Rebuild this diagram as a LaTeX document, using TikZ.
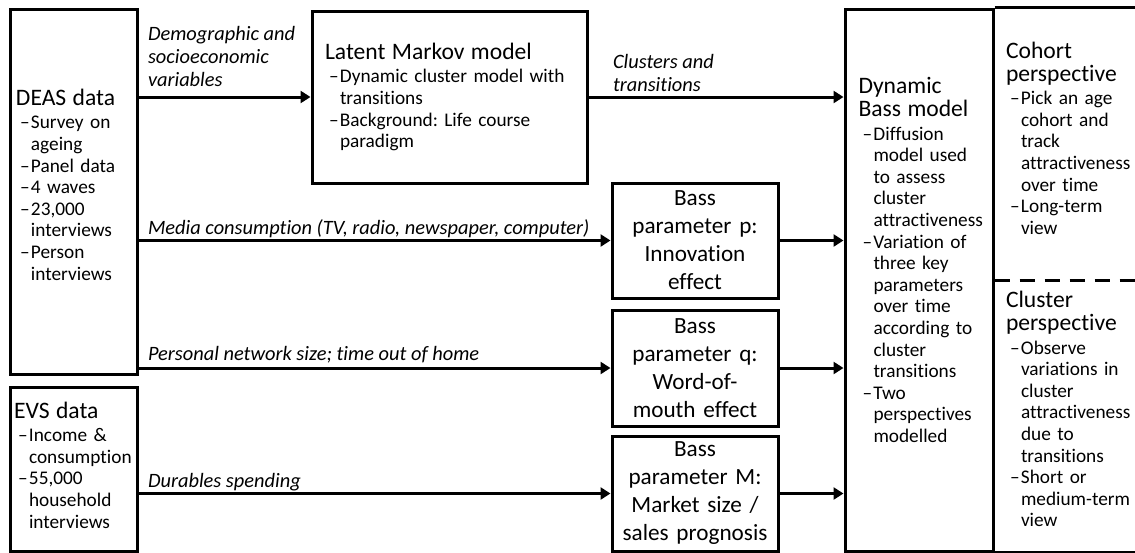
\documentclass[tikz,border=0pt]{standalone}
\usepackage{fontspec}
\setmainfont{Carlito}[Ligatures={TeX,NoCommon}]
\usetikzlibrary{arrows.meta}
\setlength{\parindent}{0pt}
\frenchspacing

\newcommand{\bodyfont}{\fontsize{9.65}{10.8}\selectfont}
\newcommand{\labelfont}{\fontsize{10.2}{11.4}\selectfont\itshape}
\newcommand{\boxtitle}[1]{{\fontsize{11.8}{11.5}\selectfont #1\par}\vspace{1pt}}
\newcommand{\boxitem}[1]{{\leftskip=7.5pt\noindent\llap{\makebox[5.5pt][l]{--}}#1\par}}
\newcommand{\lowpad}[1]{\rule[-#1]{0pt}{#1}}

\tikzset{
  frame/.style={draw, line width=1.5pt},
  srcbox/.style={frame, align=left, inner ysep=0pt, font=\bodyfont},
  bassbox/.style={frame, align=center, inner xsep=1.5pt, inner ysep=0pt,
    text width=80pt, minimum width=83pt, font=\fontsize{11.6}{14}\selectfont},
  txt/.style={align=left, inner ysep=0pt, font=\bodyfont},
  arr/.style={line width=1.5pt, -{Triangle[length=5pt,width=6pt]}},
  lbl/.style={font=\labelfont, align=left, inner sep=0pt}
}

\begin{document}
\begin{tikzpicture}[x=0.5pt, y=-0.5pt]
\useasboundingbox (0,0) rectangle (1135,552);

\node[srcbox, minimum width=63.5pt, minimum height=182.5pt, inner xsep=3pt, text width=57.5pt] (deas) at (73.5,191.5) {%
  \boxtitle{DEAS data}
  \boxitem{Survey on\\ageing}
  \boxitem{Panel data}
  \boxitem{4 waves}
  \boxitem{23,000\\interviews}
  \boxitem{Person\\interviews\lowpad{7pt}}};

\node[srcbox, minimum width=63.5pt, minimum height=82pt, inner xsep=2pt, text width=59.5pt] (evs) at (73.5,469) {%
  \boxtitle{EVS data}
  \boxitem{Income \&\\consumption}
  \boxitem{55,000\\household\\interviews\lowpad{4pt}}};

\node[srcbox, minimum width=137.5pt, minimum height=86pt, inner xsep=6.5pt, text width=124.5pt] (latent) at (449.5,97) {%
  \boxtitle{Latent Markov model}
  \boxitem{Dynamic cluster model with\\transitions}
  \boxitem{Background: Life course\\paradigm}};

\node[bassbox, minimum height=57.5pt] (pbox) at (695,240.5) {Bass\\parameter p:\\Innovation\\effect};
\node[bassbox, minimum height=58pt] (qbox) at (695,368) {Bass\\parameter q:\\Word-of-\\mouth effect};
\node[bassbox, minimum height=57.5pt] (mbox) at (695,493.5) {Bass\\parameter M:\\Market size /\\sales prognosis};

\node[frame, minimum width=74pt, minimum height=271pt, inner sep=0pt] (dyn) at (919,280) {};
\node[txt, inner xsep=0pt, text width=61pt] (dyntxt) at (919.5,260) {%
  \boxtitle{Dynamic\\Bass model}
  \boxitem{Diffusion\\model used\\to assess\\cluster\\attractiveness}
  \boxitem{Variation of\\three key\\parameters\\over time\\according to\\cluster\\transitions}
  \boxitem{Two\\perspectives\\modelled}};

\draw[frame] (dyn.north east) -- ++(150,0) (dyn.south east) -- ++(150,0);
\draw[line width=1.5pt, dash pattern=on 7.5pt off 5pt] (dyn.east) -- ++(145,0);

\node[txt, inner xsep=0pt, text width=66pt] (cohort) at (1072,138) {%
  \boxtitle{Cohort\\perspective}
  \boxitem{Pick an age\\cohort and\\track\\attractiveness\\over time}
  \boxitem{Long-term\\view}};
\node[txt, inner xsep=0pt, text width=66pt] (cluster) at (1072,409) {%
  \boxtitle{Cluster\\perspective}
  \boxitem{Observe\\variations in\\cluster\\attractiveness\\due to\\transitions}
  \boxitem{Short or\\medium-term\\view}};

\draw[arr] (latent.west -| deas.east) -- (latent.west)
  node[lbl, pos=0, anchor=south west, xshift=4pt, yshift=4.5pt] {Demographic and\\socioeconomic\\variables};
\draw[arr] (latent.east) -- (latent.east -| dyn.west)
  node[lbl, pos=0, anchor=south west, xshift=11.5pt, yshift=2pt] {Clusters and\\transitions};
\draw[arr] (pbox.west -| deas.east) -- (pbox.west)
  node[lbl, pos=0, anchor=base west, xshift=4pt, yshift=3pt] {Media consumption (TV, radio, newspaper, computer)};
\draw[arr] (qbox.west -| deas.east) -- (qbox.west)
  node[lbl, pos=0, anchor=base west, xshift=4pt, yshift=4pt] {Personal network size; time out of home};
\draw[arr] (mbox.west -| evs.east) -- (mbox.west)
  node[lbl, pos=0, anchor=base west, xshift=4pt, yshift=3pt] {Durables spending};

\draw[arr] (pbox.east) -- (pbox.east -| dyn.west);
\draw[arr] (qbox.east) -- (qbox.east -| dyn.west);
\draw[arr] (mbox.east) -- (mbox.east -| dyn.west);

\end{tikzpicture}
\end{document}
